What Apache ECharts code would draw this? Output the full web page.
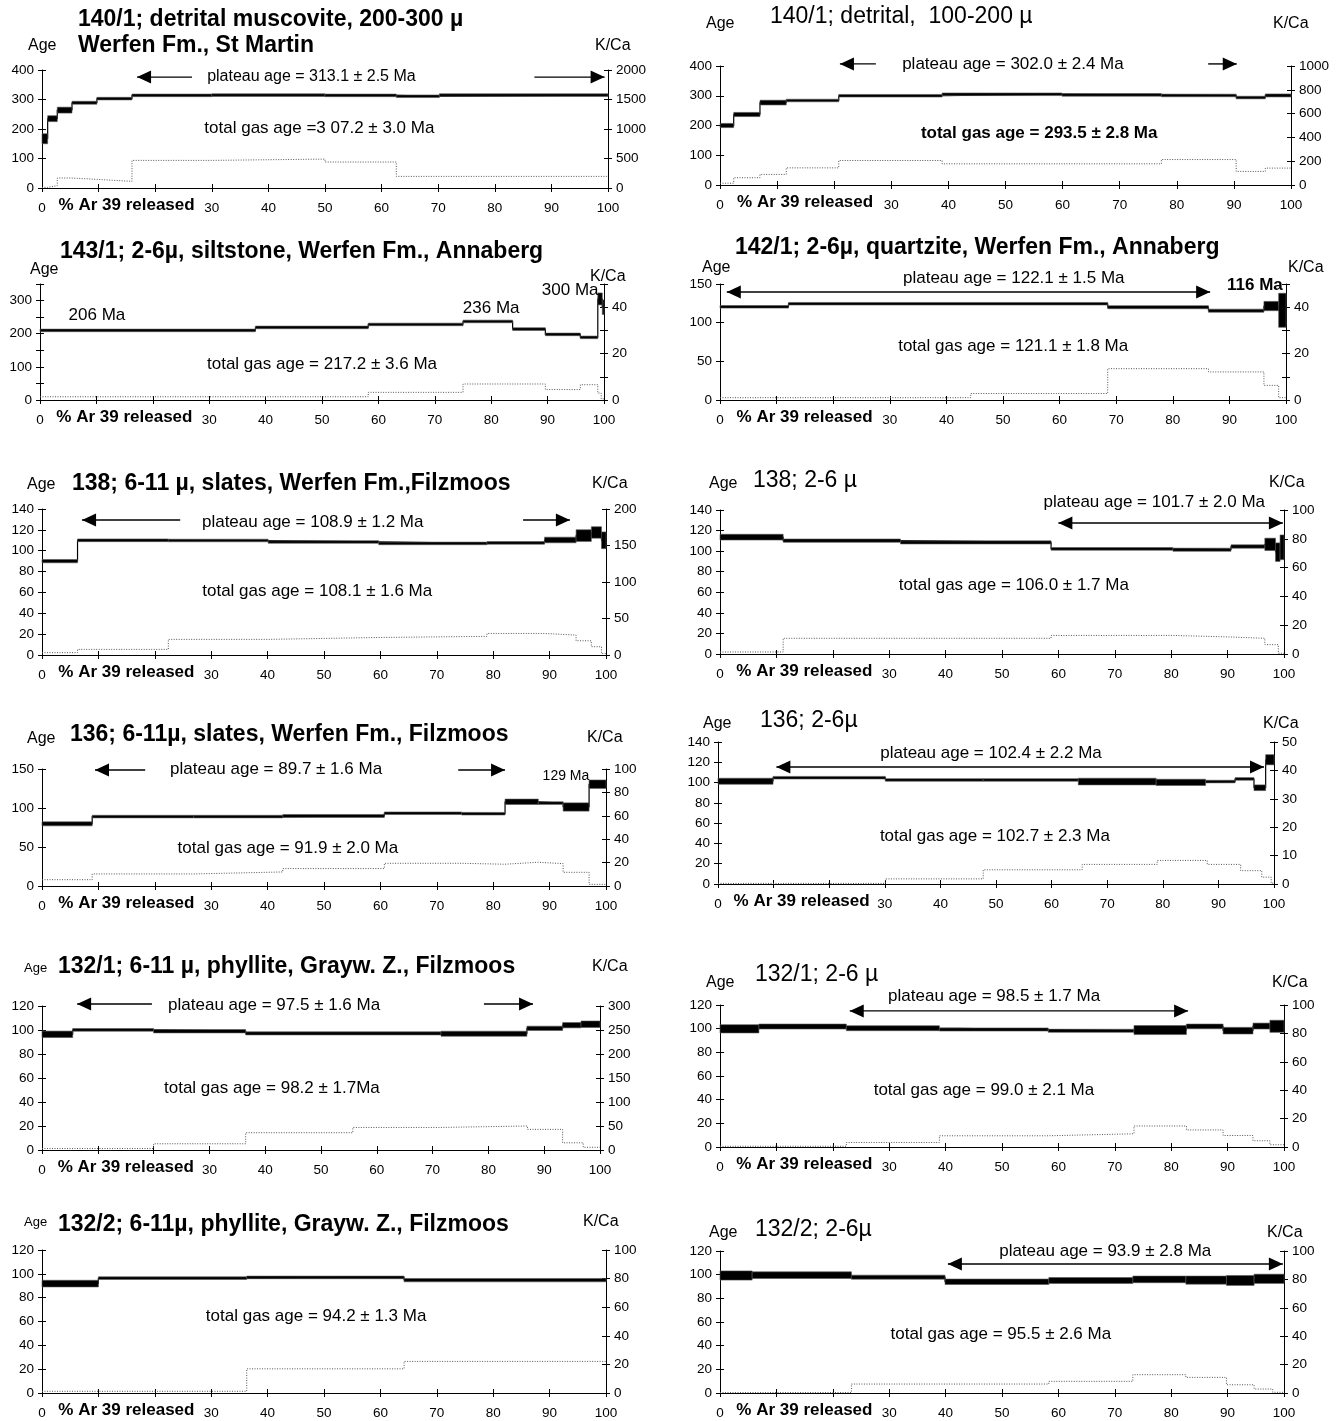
<!DOCTYPE html>
<html><head><meta charset="utf-8">
<script src="https://cdn.jsdelivr.net/npm/echarts@6/dist/echarts.min.js"></script>
<style>html,body{margin:0;padding:0;background:#fff}#c{width:1342px;height:1421px}</style>
</head><body><div id="c"></div>
<script>
const FONT = '"Liberation Sans", Arial, Helvetica, sans-serif';

// ---------- data: step boundaries (% 39Ar released), ages (Ma), 1-sigma errors, K/Ca ----------
const xTicks = [0, 10, 20, 30, 40, 50, 60, 70, 80, 90, 100];

const p1Bounds = [0, 1, 2.7, 5.3, 9.7, 15.9, 30, 50, 62.6, 70.2, 100];
const p1Age = [167, 235, 264, 289, 303, 314, 315, 314, 311, 315];
const p1Err = [17, 10, 10, 5, 4, 2.5, 2.5, 2.5, 3, 2.5];
const p1KBounds = [0, 1, 2.7, 5.3, 9.7, 15.9, 30, 50, 62.6, 100];
const p1KCa = [10, 40, 169, 146, 113, 468, 490, 440, 197];

const p2Bounds = [0, 2.4, 7, 11.6, 20.8, 38.9, 59.9, 77.3, 90.4, 95.5, 100];
const p2Age = [200, 237, 277, 284, 300, 305, 303, 301, 294, 301];
const p2Err = [7, 7, 8, 4, 3, 3, 3, 3, 3, 5];
const p2KBounds = [0, 2.4, 7, 11.6, 20.8, 38.9, 77.3, 90.4, 95.5, 100];
const p2KCa = [15, 61, 89, 144, 206, 178, 214, 114, 142];

const p3Bounds = [0, 38.2, 58.2, 75, 83.8, 89.6, 95.8, 98.9, 99.7, 100];
const p3Age = [210, 219, 228, 237, 214, 198, 189, 305, 280];
const p3Err = [3, 3, 3, 4, 4, 2, 3, 18, 22];
const p3KBounds = [0, 58.2, 75, 89.6, 95.8, 98.9, 99.5, 100];
const p3KCa = [1.4, 3.3, 6.9, 4.5, 6.6, 3, 0.5];

const p4Bounds = [0, 12.1, 68.5, 86.3, 96.1, 98.7, 100];
const p4Age = [120.5, 124.5, 120, 115.5, 121.5, 116];
const p4Err = [1.5, 1.5, 2, 2, 6, 22];
const p4KBounds = [0, 44.3, 68.5, 86.3, 96.1, 98.7, 100];
const p4KCa = [1, 2.8, 13.5, 12.1, 6.3, 1];

const p5Bounds = [0, 6.3, 22.4, 40.1, 59.7, 78.9, 89.1, 94.7, 97.4, 99.2, 100];
const p5Age = [90, 110, 109.8, 108.4, 107, 107.5, 110.3, 114.5, 117.5, 110];
const p5Err = [1.6, 1.3, 1, 1.2, 1.2, 1.2, 2.7, 5.6, 5.5, 8];
const p5KBounds = [0, 6.3, 22.4, 40.1, 59.7, 78.9, 89.1, 94.7, 97.4, 99.2, 100];
const p5KCa = [3.2, 7.7, 21.4, 24, 25.5, 29.5, 27.3, 19.5, 11.4, 2];

const p6Bounds = [0, 11.2, 32, 58.7, 80.3, 90.6, 96.6, 98.5, 99.3, 100];
const p6Age = [113.6, 110.2, 108.5, 102.2, 101.4, 104.5, 106.6, 99, 103.7];
const p6Err = [2.8, 1.6, 1.5, 1.3, 1.5, 1.6, 6, 9, 12];
const p6KBounds = [0, 11.2, 58.7, 80.3, 90.6, 96.6, 99, 100];
const p6KCa = [1.4, 10.9, 12.9, 11.8, 10.9, 6.5, 0.5];

const p7Bounds = [0, 8.9, 26.9, 42.7, 60.7, 74.4, 82.1, 88, 92.4, 97, 100];
const p7Age = [79.7, 89, 89, 89.8, 93.3, 92.7, 108, 106.3, 101.3, 130.5];
const p7Err = [2.6, 1, 1, 1.9, 1.3, 1, 3.4, 1.7, 5.3, 5.4];
const p7KBounds = [0, 8.9, 26.9, 42.7, 60.7, 74.4, 82.1, 88, 92.4, 97, 100];
const p7KCa = [5.4, 10.3, 12, 14.9, 19.4, 18.6, 20.3, 19.1, 11.7, 1.4];

const p8Bounds = [0, 9.9, 30.1, 47.7, 64.8, 78.8, 87.7, 93, 96.4, 98.5, 100];
const p8Age = [101.3, 104.8, 102.6, 102.6, 101, 100.2, 101, 103.6, 94.9, 122.5];
const p8Err = [3, 1, 0.8, 0.8, 3.3, 3.1, 1, 1, 2.8, 5];
const p8KBounds = [0, 30.1, 47.7, 65.5, 79, 88, 94, 97.8, 99.5, 100];
const p8KCa = [0.2, 1.8, 5, 6.9, 8.3, 6.9, 4.7, 2.4, 0.3];

const p9Bounds = [0, 5.5, 20, 36.5, 71.5, 86.9, 93.3, 96.6, 100];
const p9Age = [96.4, 100.1, 99, 97.2, 96.9, 101.4, 104, 104.8];
const p9Err = [2.7, 1.1, 1.4, 1.3, 2.1, 1.8, 2.2, 2.7];
const p9KBounds = [0, 20, 36.5, 55.7, 71.5, 87, 93.3, 97, 100];
const p9KCa = [3, 13, 36, 47, 50, 43, 15, 5.6];

const p10Bounds = [0, 6.9, 22.4, 38.9, 58.2, 73.4, 82.7, 89.2, 94.5, 97.5, 100];
const p10Age = [99.9, 101.8, 100.4, 99.3, 98.2, 98.8, 101.9, 98.3, 102.2, 102];
const p10Err = [3.5, 2.1, 2.1, 1.3, 1.3, 3.8, 2, 2.8, 2.5, 5.1];
const p10KBounds = [0, 22.4, 38.9, 58.2, 73.4, 82.7, 89.2, 94.5, 97.5, 100];
const p10KCa = [0.5, 3.2, 7.9, 9.3, 14.8, 12, 8.1, 4.4, 1.6];

const p11Bounds = [0, 10, 36.3, 64.2, 100];
const p11Age = [91.8, 96.4, 97, 94.7];
const p11Err = [2.8, 1.1, 1.1, 1.4];
const p11KBounds = [0, 36.3, 64.2, 100];
const p11KCa = [1.2, 16.9, 22.1];

const p12Bounds = [0, 5.7, 23.3, 39.9, 58.3, 73.2, 82.6, 89.8, 94.7, 100];
const p12Age = [99.3, 99.6, 97.9, 94, 95.1, 96, 95.4, 95.1, 96.5];
const p12Err = [3.9, 2.8, 1.7, 2.3, 2.5, 2.8, 3.4, 4.2, 3.9];
const p12KBounds = [0, 23.3, 58.3, 73.2, 82.6, 89.8, 94.7, 98, 100];
const p12KCa = [0.3, 6.3, 8.2, 12.9, 11, 5.8, 2.8, 0.5];

// ---------- annotations (data coordinates: x = % Ar39, y = age) ----------
const p1Notes = [
  {t:'arrow', x1:16.8, x2:26.5, y:376, head:'L'},
  {t:'text', x:47.6, y:376, s:'plateau age = 313.1 ± 2.5 Ma', size:16},
  {t:'arrow', x1:87, x2:99.4, y:376, head:'R'},
  {t:'text', x:49, y:203, s:'total gas age =3 07.2 ± 3.0 Ma'}
];
const p2Notes = [
  {t:'arrow', x1:21, x2:27.3, y:407, head:'L'},
  {t:'text', x:51.3, y:407, s:'plateau age = 302.0 ± 2.4 Ma'},
  {t:'arrow', x1:85.5, x2:90.5, y:407, head:'R'},
  {t:'text', x:55.9, y:175, s:'total gas age = 293.5 ± 2.8 Ma', bold:true}
];
const p3Notes = [
  {t:'text', x:10.1, y:256, s:'206 Ma'},
  {t:'text', x:80, y:278, s:'236 Ma'},
  {t:'text', x:94, y:332, s:'300 Ma'},
  {t:'text', x:50, y:108.6, s:'total gas age = 217.2 ± 3.6 Ma'}
];
const p4Notes = [
  {t:'text', x:51.9, y:157.8, s:'plateau age = 122.1 ± 1.5 Ma'},
  {t:'arrow', x1:1.2, x2:86.6, y:139.7, head:'LR'},
  {t:'text', x:94.5, y:148.7, s:'116 Ma', bold:true},
  {t:'text', x:51.8, y:69.8, s:'total gas age = 121.1 ± 1.8 Ma'}
];
const p5Notes = [
  {t:'arrow', x1:7.1, x2:24.5, y:129.5, head:'L'},
  {t:'text', x:48, y:127, s:'plateau age = 108.9 ± 1.2 Ma'},
  {t:'arrow', x1:85.3, x2:93.6, y:129.5, head:'R'},
  {t:'text', x:48.8, y:61.4, s:'total gas age = 108.1 ± 1.6 Ma'}
];
const p6Notes = [
  {t:'text', x:77, y:147.8, s:'plateau age = 101.7 ± 2.0 Ma'},
  {t:'arrow', x1:60, x2:99.8, y:127.4, head:'LR'},
  {t:'text', x:52.1, y:67.1, s:'total gas age = 106.0 ± 1.7 Ma'}
];
const p7Notes = [
  {t:'arrow', x1:9.4, x2:18.3, y:148.7, head:'L'},
  {t:'text', x:41.5, y:150, s:'plateau age = 89.7 ± 1.6 Ma'},
  {t:'arrow', x1:73.8, x2:82.1, y:148.7, head:'R'},
  {t:'text', x:92.9, y:141, s:'129 Ma', size:14},
  {t:'text', x:43.6, y:48.7, s:'total gas age = 91.9 ± 2.0 Ma'}
];
const p8Notes = [
  {t:'text', x:49.1, y:129, s:'plateau age = 102.4 ± 2.2 Ma'},
  {t:'arrow', x1:10.5, x2:98.2, y:115.4, head:'LR'},
  {t:'text', x:49.8, y:47.3, s:'total gas age = 102.7 ± 2.3 Ma'}
];
const p9Notes = [
  {t:'arrow', x1:6.3, x2:19.7, y:121.7, head:'L'},
  {t:'text', x:41.6, y:120.8, s:'plateau age = 97.5 ± 1.6 Ma'},
  {t:'arrow', x1:79.2, x2:88, y:121.7, head:'R'},
  {t:'text', x:41.2, y:51.7, s:'total gas age = 98.2 ± 1.7Ma'}
];
const p10Notes = [
  {t:'text', x:48.6, y:127.6, s:'plateau age = 98.5 ± 1.7 Ma'},
  {t:'arrow', x1:23, x2:83, y:115, head:'LR'},
  {t:'text', x:46.8, y:48.2, s:'total gas age = 99.0 ± 2.1 Ma'}
];
const p11Notes = [
  {t:'text', x:48.6, y:64.6, s:'total gas age = 94.2 ± 1.3 Ma'}
];
const p12Notes = [
  {t:'text', x:68.3, y:120, s:'plateau age = 93.9 ± 2.8 Ma'},
  {t:'arrow', x1:40.4, x2:99.8, y:109, head:'LR'},
  {t:'text', x:49.8, y:49.7, s:'total gas age = 95.5 ± 2.6 Ma'}
];

// ---------- layout ----------
const hide100 = v => (v % 100 === 0 ? String(v) : '');
const hide20 = v => (v % 20 === 0 ? String(v) : '');
const hide20b = v => (v % 20 === 0 && v < 50 ? String(v) : '');

const panels = [
  {g:[42,70,608,188], b:p1Bounds, a:p1Age, e:p1Err, kb:p1KBounds, k:p1KCa, yL:[400,100], yR:[2000,500], notes:p1Notes,
   titles:[['140/1; detrital muscovite, 200-300 µ',78,20,true],['Werfen Fm., St Martin',78,46,true]], ageLbl:[28,46], kLbl:[595,46]},
  {g:[720,66,1291,185], b:p2Bounds, a:p2Age, e:p2Err, kb:p2KBounds, k:p2KCa, yL:[400,100], yR:[1000,200], notes:p2Notes,
   titles:[['140/1; detrital,  100-200 µ',770,17,false]], ageLbl:[706,24], kLbl:[1273,24]},
  {g:[40,284,604,400], b:p3Bounds, a:p3Age, e:p3Err, kb:p3KBounds, k:p3KCa, yL:[350,50], yR:[50,10], fL:hide100, fR:hide20, notes:p3Notes,
   titles:[['143/1; 2-6µ, siltstone, Werfen Fm., Annaberg',60,252,true]], ageLbl:[30,270], kLbl:[590,277]},
  {g:[720,284,1286,400], b:p4Bounds, a:p4Age, e:p4Err, kb:p4KBounds, k:p4KCa, yL:[150,50], yR:[50,10], fR:hide20b, notes:p4Notes,
   titles:[['142/1; 2-6µ, quartzite, Werfen Fm., Annaberg',735,248,true]], ageLbl:[702,268], kLbl:[1288,268]},
  {g:[42,509,606,655], b:p5Bounds, a:p5Age, e:p5Err, kb:p5KBounds, k:p5KCa, yL:[140,20], yR:[200,50], notes:p5Notes,
   titles:[['138; 6-11 µ, slates, Werfen Fm.,Filzmoos',72,484,true]], ageLbl:[27,485], kLbl:[592,484]},
  {g:[720,510,1284,654], b:p6Bounds, a:p6Age, e:p6Err, kb:p6KBounds, k:p6KCa, yL:[140,20], yR:[100,20], notes:p6Notes,
   titles:[['138; 2-6 µ',753,481,false]], ageLbl:[709,484], kLbl:[1269,483]},
  {g:[42,769,606,886], b:p7Bounds, a:p7Age, e:p7Err, kb:p7KBounds, k:p7KCa, yL:[150,50], yR:[100,20], notes:p7Notes,
   titles:[['136; 6-11µ, slates, Werfen Fm., Filzmoos',70,735,true]], ageLbl:[27,739], kLbl:[587,738]},
  {g:[718,742,1274,884], b:p8Bounds, a:p8Age, e:p8Err, kb:p8KBounds, k:p8KCa, yL:[140,20], yR:[50,10], notes:p8Notes,
   titles:[['136; 2-6µ',760,721,false]], ageLbl:[703,724], kLbl:[1263,724]},
  {g:[42,1006,600,1150], b:p9Bounds, a:p9Age, e:p9Err, kb:p9KBounds, k:p9KCa, yL:[120,20], yR:[300,50], notes:p9Notes,
   titles:[['132/1; 6-11 µ, phyllite, Grayw. Z., Filzmoos',58,967,true]], ageLbl:[24,968,13], kLbl:[592,967]},
  {g:[720,1005,1284,1147], b:p10Bounds, a:p10Age, e:p10Err, kb:p10KBounds, k:p10KCa, yL:[120,20], yR:[100,20], notes:p10Notes,
   titles:[['132/1; 2-6 µ',755,975,false]], ageLbl:[706,983], kLbl:[1272,983]},
  {g:[42,1250,606,1393], b:p11Bounds, a:p11Age, e:p11Err, kb:p11KBounds, k:p11KCa, yL:[120,20], yR:[100,20], notes:p11Notes,
   titles:[['132/2; 6-11µ, phyllite, Grayw. Z., Filzmoos',58,1225,true]], ageLbl:[24,1222,13], kLbl:[583,1222]},
  {g:[720,1251,1284,1393], b:p12Bounds, a:p12Age, e:p12Err, kb:p12KBounds, k:p12KCa, yL:[120,20], yR:[100,20], notes:p12Notes,
   titles:[['132/2; 2-6µ',755,1230,false]], ageLbl:[709,1233], kLbl:[1267,1233]}
];

const grids = [], xAxes = [], yAxes = [], series = [], graphics = [];
const axisLine = {show:true, onZero:false, lineStyle:{color:'#000', width:1}};
const tickLbl = {color:'#000', fontSize:13.5, fontFamily:FONT};

function rectRender(params, api) {
  const x0 = api.value(0), x1 = api.value(1), a = api.value(2), e = api.value(3);
  const pT = api.coord([x0, a + e]), pB = api.coord([x1, a - e]);
  let y = pT[1], h = pB[1] - pT[1];
  if (h < 2.6) { y = (pT[1] + pB[1]) / 2 - 1.3; h = 2.6; }
  return {type:'rect', shape:{x:pT[0], y:y, width:pB[0] - pT[0], height:h},
          style:{fill:'#000', stroke:'#555', lineWidth:0.6}};
}
function noteRender(notes) {
  return function (params, api) {
    const n = notes[params.dataIndex];
    if (n.t === 'text') {
      const p = api.coord([n.x, n.y]);
      return {type:'text', x:p[0], y:p[1], style:{text:n.s, fill:'#000', fontSize:n.size || 17,
        fontWeight:n.bold ? 'bold' : 'normal', fontFamily:FONT, align:'center', verticalAlign:'middle',
        textAlign:'center', textVerticalAlign:'middle'}};
    }
    const a = api.coord([n.x1, n.y]), b = api.coord([n.x2, n.y]);
    const L = 14, H = 6.5;
    const ch = [{type:'line', shape:{x1:a[0], y1:a[1], x2:b[0], y2:b[1]}, style:{stroke:'#000', lineWidth:1.4}}];
    if (n.head.indexOf('L') >= 0) ch.push({type:'polygon', shape:{points:[[a[0], a[1]], [a[0] + L, a[1] - H], [a[0] + L, a[1] + H]]}, style:{fill:'#000'}});
    if (n.head.indexOf('R') >= 0) ch.push({type:'polygon', shape:{points:[[b[0], b[1]], [b[0] - L, b[1] - H], [b[0] - L, b[1] + H]]}, style:{fill:'#000'}});
    return {type:'group', children:ch};
  };
}

panels.forEach((p, i) => {
  const [l, t, r, btm] = p.g;
  grids.push({left:l, top:t, width:r - l, height:btm - t, containLabel:false});
  // x axes (main + inner ticks)
  xAxes.push({type:'value', gridIndex:i, min:0, max:100, interval:10, position:'bottom',
    axisLine:axisLine, axisTick:{show:true, length:4, lineStyle:{color:'#000'}}, splitLine:{show:false},
    axisLabel:Object.assign({}, tickLbl, {margin:9, showMinLabel:true, showMaxLabel:true,
      formatter: v => (v === 10 ? '{r|% Ar 39 released}' : (v === 20 ? '' : '{n|' + v + '}')),
      rich:{r:{fontSize:17, fontWeight:'bold', fontFamily:FONT, color:'#000', padding:[0,0,0,56]},
            n:{fontSize:13.5, fontFamily:FONT, color:'#000', padding:[4,0,0,0]}}})});
  xAxes.push({type:'value', gridIndex:i, min:0, max:100, interval:10, position:'bottom',
    axisLine:{show:false, onZero:false}, axisTick:{show:true, inside:true, length:4, lineStyle:{color:'#000'}},
    axisLabel:{show:false}, splitLine:{show:false}});
  // y axes: left main, left inner, right main, right inner
  yAxes.push({type:'value', gridIndex:i, position:'left', min:0, max:p.yL[0], interval:p.yL[1],
    axisLine:axisLine, axisTick:{show:true, length:4, lineStyle:{color:'#000'}}, splitLine:{show:false},
    axisLabel:Object.assign({}, tickLbl, {margin:8, formatter:p.fL || (v => String(v))})});
  yAxes.push({type:'value', gridIndex:i, position:'left', min:0, max:p.yL[0], interval:p.yL[1],
    axisLine:{show:false, onZero:false}, axisTick:{show:true, inside:true, length:4, lineStyle:{color:'#000'}},
    axisLabel:{show:false}, splitLine:{show:false}});
  yAxes.push({type:'value', gridIndex:i, position:'right', min:0, max:p.yR[0], interval:p.yR[1],
    axisLine:axisLine, axisTick:{show:true, length:4, lineStyle:{color:'#000'}}, splitLine:{show:false},
    axisLabel:Object.assign({}, tickLbl, {margin:8, formatter:p.fR || (v => String(v))})});
  yAxes.push({type:'value', gridIndex:i, position:'right', min:0, max:p.yR[0], interval:p.yR[1],
    axisLine:{show:false, onZero:false}, axisTick:{show:true, inside:true, length:4, lineStyle:{color:'#000'}},
    axisLabel:{show:false}, splitLine:{show:false}});

  const xi = 2 * i, yi = 4 * i;
  // K/Ca dotted step line (right axis)
  const kPts = p.k.map((v, j) => [p.kb[j], v]);
  kPts.push([p.kb[p.kb.length - 1], p.k[p.k.length - 1]]);
  series.push({type:'line', xAxisIndex:xi, yAxisIndex:yi + 2, data:kPts, step:'end', symbol:'none',
    lineStyle:{color:'#555', width:1, type:[1, 1.5]}, silent:true, z:1, animation:false});
  // age connector step line
  const aPts = p.a.map((v, j) => [p.b[j], v]);
  aPts.push([p.b[p.b.length - 1], p.a[p.a.length - 1]]);
  series.push({type:'line', xAxisIndex:xi, yAxisIndex:yi, data:aPts, step:'end', symbol:'none',
    lineStyle:{color:'#000', width:1.2}, silent:true, z:2, animation:false});
  // age boxes (plateau steps with error)
  series.push({type:'custom', xAxisIndex:xi, yAxisIndex:yi, renderItem:rectRender,
    data:p.a.map((v, j) => [p.b[j], p.b[j + 1], v, p.e[j]]), encode:{x:[0, 1], y:[2]},
    silent:true, z:3, animation:false});
  // annotations
  series.push({type:'custom', xAxisIndex:xi, yAxisIndex:yi, renderItem:noteRender(p.notes), clip:false,
    data:p.notes.map(n => [n.t === 'text' ? n.x : n.x1, n.y]), encode:{x:0, y:1},
    silent:true, z:4, animation:false});

  p.titles.forEach(tt => graphics.push({type:'text', x:tt[1], y:tt[2], silent:true,
    style:{text:tt[0], fill:'#000', fontSize:23, fontWeight:tt[3] ? 'bold' : 'normal', fontFamily:FONT,
      verticalAlign:'middle', textVerticalAlign:'middle'}}));
  graphics.push({type:'text', x:p.ageLbl[0], y:p.ageLbl[1], silent:true,
    style:{text:'Age', fill:'#000', fontSize:p.ageLbl[2] || 16, fontFamily:FONT, verticalAlign:'middle', textVerticalAlign:'middle'}});
  graphics.push({type:'text', x:p.kLbl[0], y:p.kLbl[1], silent:true,
    style:{text:'K/Ca', fill:'#000', fontSize:16, fontFamily:FONT, verticalAlign:'middle', textVerticalAlign:'middle'}});
});

const chart = echarts.init(document.getElementById('c'), null, {renderer:'canvas'});
chart.setOption({
  animation:false,
  backgroundColor:'#fff',
  textStyle:{fontFamily:FONT},
  grid:grids, xAxis:xAxes, yAxis:yAxes, series:series, graphic:graphics
});
</script></body></html>
